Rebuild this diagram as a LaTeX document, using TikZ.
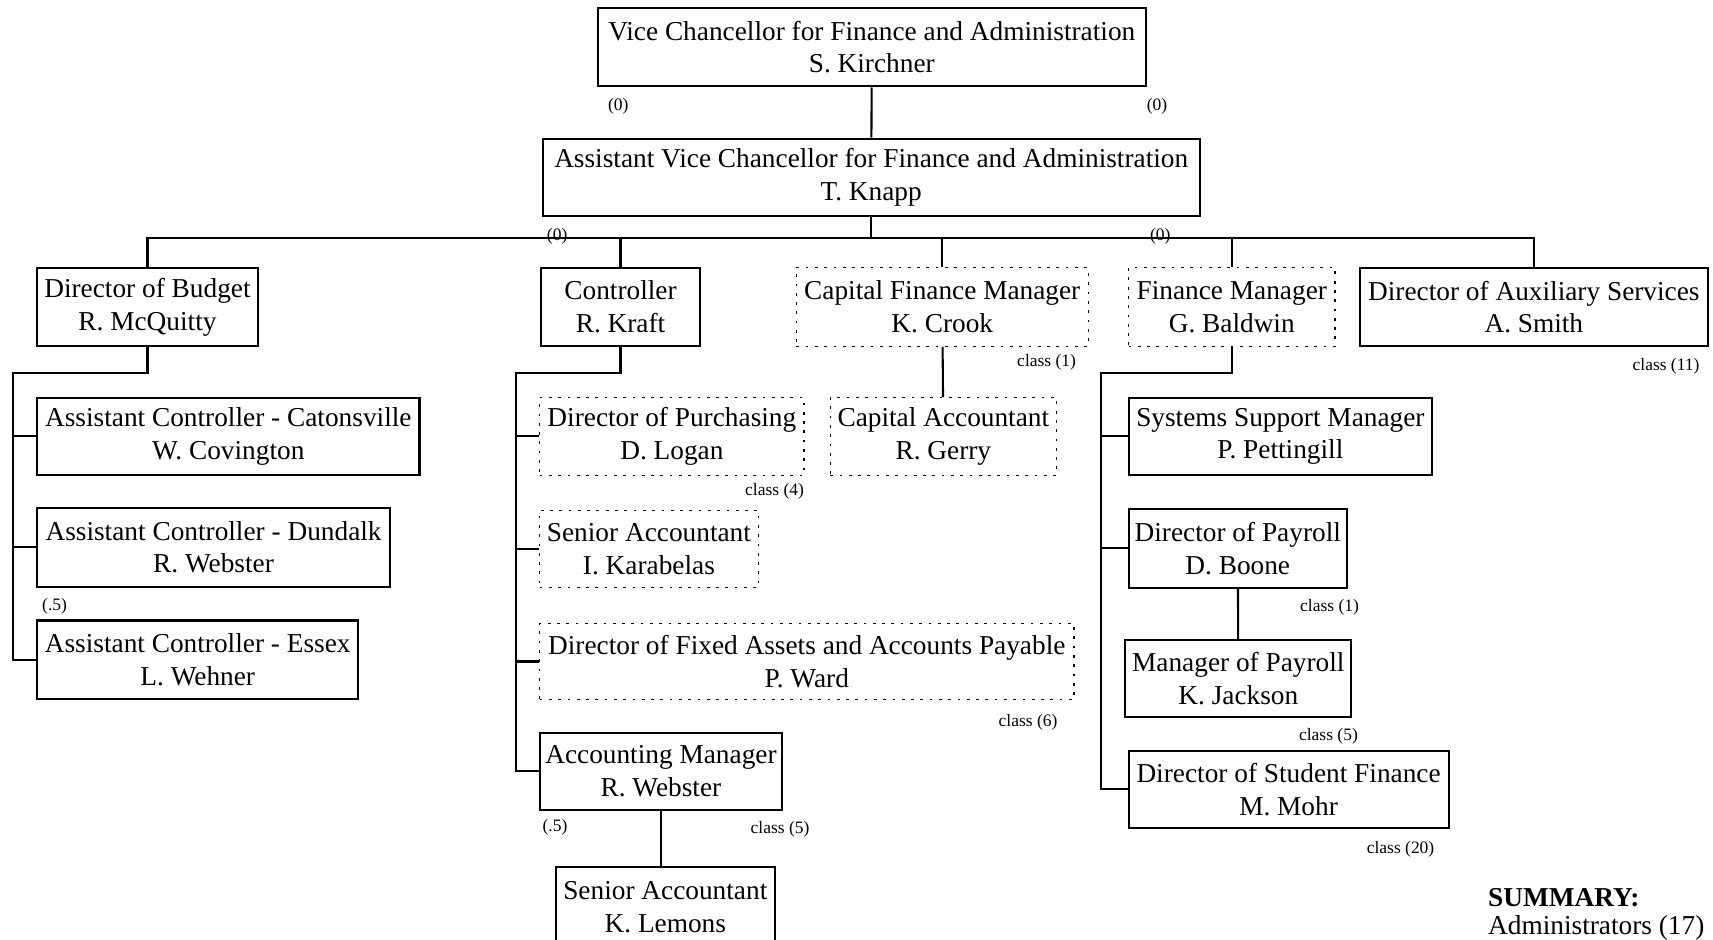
\documentclass[tikz,border=0pt]{standalone}
\usepackage{fontspec}
\setmainfont{Liberation Serif}

\begin{document}
\begin{tikzpicture}[x=1pt,y=-1pt]

\tikzstyle{post}=[draw,line width=1.9pt,align=center,inner sep=0pt,minimum height=72pt,font=\fontsize{25}{30}\selectfont]
\tikzstyle{vacant}=[post,line width=1.1pt,dash pattern=on 2.5pt off 6pt]
\tikzstyle{link}=[line width=1.9pt]
\tikzstyle{note}=[inner sep=0pt,font=\fontsize{16}{19}\selectfont]

\useasboundingbox (0,0) rectangle (1568,860);

%% Top of the chart
\node [post,minimum width=502pt] (vc) at (798,43) {Vice Chancellor for Finance and Administration\\S. Kirchner};
\node [post,minimum width=601pt,minimum height=71pt] (avc) at (797.5,162.5) {Assistant Vice Chancellor for Finance and Administration\\T. Knapp};

%% Second row
\node [post,minimum width=202pt] (budget) at (135,281) {Director of Budget\\R. McQuitty};
\node [post,minimum width=146pt] (ctrl) at (568,281) {Controller\\R. Kraft};
\node [vacant,minimum width=267pt] (capfin) at (862.5,281) {Capital Finance Manager\\K. Crook};
\node [vacant,minimum width=189pt] (finmgr) at (1127.5,281) {Finance Manager\\G. Baldwin};
\node [post,minimum width=318pt] (aux) at (1404,281) {Director of Auxiliary Services\\A. Smith};

%% Budget staff
\node [post,minimum width=350pt,minimum height=71pt] (catons) at (209,399.5) {Assistant Controller - Catonsville\\W. Covington};
\node [post,minimum width=323pt] (dundalk) at (195.5,501) {Assistant Controller - Dundalk\\R. Webster};
\node [post,minimum width=294pt] (essex) at (181,604) {Assistant Controller - Essex\\L. Wehner};

%% Controller staff
\node [vacant,minimum width=242pt,minimum height=71pt] (purch) at (615,399.5) {Director of Purchasing\\D. Logan};
\node [vacant,minimum width=200pt,minimum height=71pt] (karab) at (594,502.5) {Senior Accountant\\I. Karabelas};
\node [vacant,minimum width=489pt,minimum height=69pt] (fixed) at (738.5,605.5) {Director of Fixed Assets and Accounts Payable\\P. Ward};
\node [post,minimum width=222pt,minimum height=70pt] (acctmgr) at (605,706) {Accounting Manager\\R. Webster};
\node [post,minimum width=200pt] (lemons) at (609,830) {Senior Accountant\\K. Lemons};

%% Capital finance and finance staff
\node [vacant,minimum width=207pt,minimum height=71pt] (capacc) at (863.5,399.5) {Capital Accountant\\R. Gerry};
\node [post,minimum width=278pt,minimum height=71pt] (sysmgr) at (1172,399.5) {Systems Support Manager\\P. Pettingill};
\node [post,minimum width=200pt] (payroll) at (1133,502) {Director of Payroll\\D. Boone};
\node [post,minimum width=207pt,minimum height=70pt] (mgrpay) at (1133.5,621) {Manager of Payroll\\K. Jackson};
\node [post,minimum width=293pt,minimum height=71pt] (studfin) at (1179.5,722.5) {Director of Student Finance\\M. Mohr};

%% Connectors
\coordinate (hub) at (797.5,218);
\draw [link] (vc) -- (avc);
\draw [link] (avc) -- (hub);
\draw [link] (budget.north) |- (hub) -| (aux.north);
\foreach \n in {ctrl,capfin,finmgr}
    \draw [link] (\n.north) -- (\n.north |- hub);

\coordinate (bspine) at (12,341);
\draw [link] (budget.south) |- (bspine) |- (essex.west);
\draw [link] (bspine |- catons.west) -- (catons.west);
\draw [link] (bspine |- dundalk.west) -- (dundalk.west);

\coordinate (cspine) at (472,341);
\draw [link] (ctrl.south) |- (cspine) |- (acctmgr.west);
\foreach \n in {purch,karab,fixed}
    \draw [link] (cspine |- \n.west) -- (\n.west);
\draw [link] (acctmgr.south) -- (acctmgr.south |- lemons.north);

\draw [link] (capfin) -- (capacc);

\coordinate (fspine) at (1008,341);
\draw [link] (finmgr.south) |- (fspine) |- (studfin.west);
\draw [link] (fspine |- sysmgr.west) -- (sysmgr.west);
\draw [link] (fspine |- payroll.west) -- (payroll.west);
\draw [link] (payroll) -- (mgrpay);

%% Head counts
\node [note] (n1) at (566,97) {(0)};
\node [note] (n2) at (1059,97) {(0)};
\node [note] (n3) at (510,216) {(0)};
\node [note] (n4) at (1062,216) {(0)};
\node [note] (n5) at (958,332) {class (1)};
\node [note] (n6) at (1525,335) {class (11)};
\node [note] (n7) at (709,450) {class (4)};
\node [note] (n8) at (941,661) {class (6)};
\node [note] (n9) at (50,555) {(.5)};
\node [note] (n10) at (508,757) {(.5)};
\node [note] (n11) at (714,759) {class (5)};
\node [note] (n12) at (1217,556) {class (1)};
\node [note] (n13) at (1216,674) {class (5)};
\node [note] (n14) at (1282,777) {class (20)};

\node [anchor=west,inner sep=0pt,font=\fontsize{25}{30}\selectfont\bfseries] (summary) at (1362,822) {SUMMARY:};
\node [anchor=west,inner sep=0pt,font=\fontsize{25}{30}\selectfont] (admins) at (1362,849) {Administrators (17)};

\end{tikzpicture}
\end{document}
